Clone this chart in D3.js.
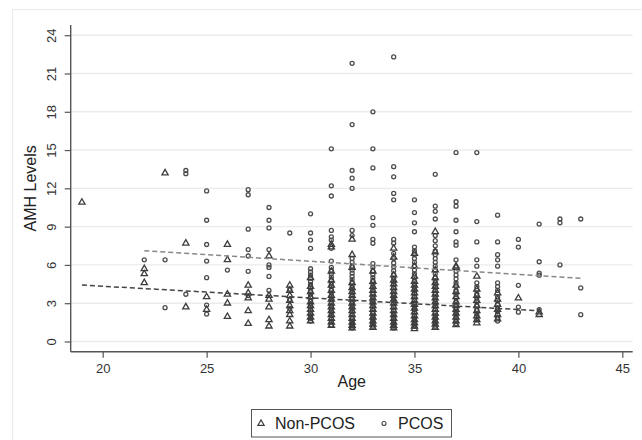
<!DOCTYPE html>
<html>
<head>
<meta charset="utf-8">
<script src="https://cdn.jsdelivr.net/npm/d3@7/dist/d3.min.js"></script>
<style>
  html, body { margin: 0; padding: 0; background: #fff; }
  svg { display: block; font-family: "Liberation Sans", Arial, sans-serif; }
</style>
</head>
<body>
<svg id="chart" width="642" height="440"></svg>
<script>
// ---- Data ----
const xTicks = [20, 25, 30, 35, 40, 45];
const yTicks = [0, 3, 6, 9, 12, 15, 18, 21, 24];
const legendLabels = ["Non-PCOS", "PCOS"];

// [age, [AMH values]]
const nonPcosByAge = [
  [19, [10.9]],
  [22, [5.7, 5.3, 4.6]],
  [23, [13.2]],
  [24, [7.7, 2.7]],
  [25, [3.5, 2.5]],
  [26, [7.6, 6.4, 3.7, 3.0, 1.95]],
  [27, [4.4, 3.8, 3.4, 2.4, 1.4]],
  [28, [6.7, 3.6, 3.3, 2.7, 1.7, 1.2]],
  [29, [4.4, 4.0, 3.6, 3.2, 2.8, 2.4, 2.1, 1.6, 1.2]],
  [30, [5.0, 4.3, 3.9, 3.5, 3.1, 2.8, 2.5, 2.2, 1.9, 1.6]],
  [31, [7.6, 7.4, 5.5, 4.8, 4.4, 4.0, 3.6, 3.3, 3.0, 2.7, 2.4, 2.1, 1.8, 1.5, 1.25]],
  [32, [8.0, 6.8, 5.8, 4.6, 4.2, 3.9, 3.6, 3.3, 3.0, 2.7, 2.4, 2.1, 1.8, 1.5, 1.25, 1.05]],
  [33, [5.5, 4.7, 4.3, 4.0, 3.7, 3.4, 3.1, 2.8, 2.5, 2.2, 1.9, 1.6, 1.35, 1.1]],
  [34, [7.3, 6.6, 5.2, 4.8, 4.5, 4.2, 3.9, 3.6, 3.3, 3.0, 2.7, 2.4, 2.1, 1.8, 1.5, 1.25, 1.05]],
  [35, [6.9, 5.9, 5.1, 4.7, 4.4, 4.1, 3.8, 3.5, 3.2, 2.9, 2.6, 2.3, 2.0, 1.7, 1.45, 1.2, 1.0]],
  [36, [8.6, 7.0, 5.6, 5.0, 4.6, 4.3, 4.0, 3.7, 3.4, 3.1, 2.8, 2.5, 2.2, 1.9, 1.6, 1.35, 1.1]],
  [37, [5.9, 5.8, 4.4, 3.9, 3.5, 3.1, 2.8, 2.5, 2.2, 1.9, 1.6, 1.3]],
  [38, [5.1, 4.1, 3.6, 3.2, 2.8, 2.4, 2.0, 1.7, 1.45]],
  [39, [3.8, 3.3, 2.9, 2.5, 2.1, 1.75]],
  [40, [3.4]],
  [41, [2.3, 2.1]]
];

const pcosByAge = [
  [22, [6.4]],
  [23, [6.4, 2.65]],
  [24, [13.4, 13.15, 3.7]],
  [25, [11.8, 9.5, 7.6, 6.3, 5.0, 2.85, 2.15]],
  [26, [5.6]],
  [27, [11.9, 11.5, 8.8, 7.2, 6.7, 5.5, 3.6]],
  [28, [10.5, 9.5, 8.9, 7.2, 6.0, 5.8, 5.1, 4.0]],
  [29, [8.5, 4.1, 3.3, 2.6]],
  [30, [10.0, 8.5, 7.95, 7.3, 5.7, 5.45, 5.2, 4.95, 4.7, 4.45, 4.2, 3.95, 3.7, 3.45, 3.2, 2.95, 2.7, 2.45, 2.2, 2.0, 1.8, 1.6]],
  [31, [15.1, 12.2, 11.4, 8.7, 8.2, 7.95, 7.3, 6.3, 5.8, 5.55, 5.3, 5.05, 4.8, 4.55, 4.3, 4.05, 3.8, 3.55, 3.3, 3.05, 2.8, 2.55, 2.3, 2.05, 1.8, 1.55, 1.3]],
  [32, [21.8, 17.0, 13.4, 12.8, 12.0, 8.7, 8.3, 6.5, 6.2, 5.9, 5.6, 5.35, 5.1, 4.85, 4.6, 4.35, 4.1, 3.85, 3.6, 3.35, 3.1, 2.85, 2.6, 2.35, 2.1, 1.85, 1.6, 1.4, 1.2, 1.05]],
  [33, [18.0, 15.1, 13.6, 9.7, 9.1, 8.0, 7.7, 6.1, 5.8, 5.5, 5.25, 5.0, 4.75, 4.5, 4.25, 4.0, 3.75, 3.5, 3.25, 3.0, 2.75, 2.5, 2.25, 2.0, 1.8, 1.6, 1.4, 1.2]],
  [34, [22.3, 13.7, 12.9, 11.6, 11.1, 8.0, 7.7, 6.9, 6.5, 6.15, 5.85, 5.55, 5.25, 4.95, 4.7, 4.45, 4.2, 3.95, 3.7, 3.45, 3.2, 2.95, 2.7, 2.45, 2.2, 2.0, 1.8, 1.6, 1.4, 1.2, 1.05]],
  [35, [11.1, 10.1, 9.3, 8.6, 7.4, 7.1, 6.8, 6.5, 6.2, 5.9, 5.6, 5.3, 5.0, 4.75, 4.5, 4.25, 4.0, 3.75, 3.5, 3.25, 3.0, 2.75, 2.5, 2.25, 2.0, 1.8, 1.6, 1.4, 1.2]],
  [36, [13.1, 10.6, 10.2, 9.6, 8.3, 7.9, 7.5, 7.1, 6.8, 6.5, 6.2, 5.9, 5.6, 5.3, 5.0, 4.75, 4.5, 4.25, 4.0, 3.75, 3.5, 3.25, 3.0, 2.75, 2.5, 2.25, 2.0, 1.8, 1.6, 1.4, 1.2]],
  [37, [14.8, 10.95, 10.6, 9.5, 8.6, 7.8, 7.55, 6.4, 5.5, 5.2, 4.9, 4.6, 4.3, 4.0, 3.7, 3.4, 3.1, 2.85, 2.6, 2.35, 2.1, 1.85, 1.6, 1.4]],
  [38, [14.8, 9.4, 7.8, 6.4, 5.9, 4.6, 4.3, 4.0, 3.7, 3.4, 3.1, 2.8, 2.5, 2.2, 1.95, 1.7]],
  [39, [9.9, 7.8, 6.8, 6.4, 5.9, 4.6, 4.3, 4.0, 3.5, 3.2, 2.9, 2.6, 2.35, 2.1, 1.85, 1.6]],
  [40, [8.0, 7.4, 4.4, 2.7, 2.3]],
  [41, [9.2, 6.25, 5.35, 5.2, 2.5]],
  [42, [9.6, 9.3, 6.0]],
  [43, [9.6, 4.2, 2.1]]
];

// linear fit lines (endpoints)
const fitNonPcos = [[19, 4.42], [41, 2.41]];
const fitPcos = [[22, 7.11], [43, 4.95]];

// ---- Layout ----
const svg = d3.select("#chart");
const plot = { left: 70.7, right: 632.7, top: 25, bottom: 351.7 };

const x = d3.scaleLinear().domain([18.46, 45.5]).range([plot.left, plot.right]);
const y = d3.scaleLinear().domain([-0.8, 24.8]).range([plot.bottom, plot.top]);

// outer frame
svg.append("rect")
  .attr("x", 12.5).attr("y", 9.5).attr("width", 640).attr("height", 440)
  .attr("fill", "none").attr("stroke", "#ececec").attr("stroke-width", 1.2);

// gridlines
svg.append("g").selectAll("line").data(yTicks).join("line")
  .attr("x1", plot.left).attr("x2", plot.right)
  .attr("y1", d => y(d)).attr("y2", d => y(d))
  .attr("stroke", "#ebebeb").attr("stroke-width", 1.4);

// Y axis
const yAxis = svg.append("g")
  .attr("transform", `translate(${plot.left},0)`)
  .call(d3.axisLeft(y).tickValues(yTicks).tickSize(6).tickPadding(0).tickFormat(d3.format("d")));
yAxis.select(".domain").attr("stroke", "#555").attr("stroke-width", 1.4)
  .attr("d", `M0,${plot.top}V${plot.bottom}`);
yAxis.selectAll(".tick line").attr("stroke", "#555").attr("stroke-width", 1.2);
yAxis.selectAll(".tick text")
  .attr("x", 0).attr("y", 0).attr("dy", null)
  .attr("transform", "translate(-19,0) rotate(-90)")
  .attr("text-anchor", "middle")
  .attr("dominant-baseline", "central")
  .attr("font-size", 13).attr("fill", "#333")
  .attr("font-family", "'Liberation Sans', Arial, sans-serif");

// X axis
const xAxis = svg.append("g")
  .attr("transform", `translate(0,${plot.bottom})`)
  .call(d3.axisBottom(x).tickValues(xTicks).tickSize(6).tickPadding(6).tickFormat(d3.format("d")));
xAxis.select(".domain").attr("stroke", "#555").attr("stroke-width", 1.4)
  .attr("d", `M${plot.left},0H${plot.right}`);
xAxis.selectAll(".tick line").attr("stroke", "#555").attr("stroke-width", 1.2);
xAxis.selectAll(".tick text")
  .attr("font-size", 13).attr("fill", "#333")
  .attr("font-family", "'Liberation Sans', Arial, sans-serif");

// axis titles
svg.append("text")
  .attr("x", (plot.left + plot.right) / 2).attr("y", 381)
  .attr("text-anchor", "middle").attr("dominant-baseline", "central")
  .attr("font-size", 16).attr("fill", "#222").text("Age");
svg.append("text")
  .attr("transform", `translate(30,${(plot.top + plot.bottom) / 2}) rotate(-90)`)
  .attr("text-anchor", "middle").attr("dominant-baseline", "central")
  .attr("font-size", 16).attr("fill", "#222").text("AMH Levels");

// flatten points
const flat = arr => arr.flatMap(([age, vals]) => vals.map(v => ({ age, v })));
const nonPts = flat(nonPcosByAge);
const pcosPts = flat(pcosByAge);

const triPath = d3.symbol().type(d3.symbolTriangle).size(17)();

// PCOS circles
svg.append("g").selectAll("circle").data(pcosPts).join("circle")
  .attr("cx", d => x(d.age)).attr("cy", d => y(d.v)).attr("r", 2)
  .attr("fill", "none").attr("stroke", "#4d4d4d").attr("stroke-width", 1.3);

// Non-PCOS triangles
svg.append("g").selectAll("path").data(nonPts).join("path")
  .attr("d", triPath)
  .attr("transform", d => `translate(${x(d.age)},${y(d.v)})`)
  .attr("fill", "none").attr("stroke", "#3d3d3d").attr("stroke-width", 1.3);

// fit lines
const line = d3.line().x(d => x(d[0])).y(d => y(d[1]));
svg.append("path").datum(fitPcos).attr("d", line)
  .attr("fill", "none").attr("stroke", "#888").attr("stroke-width", 1.5)
  .attr("stroke-dasharray", "5,3");
svg.append("path").datum(fitNonPcos).attr("d", line)
  .attr("fill", "none").attr("stroke", "#444").attr("stroke-width", 1.5)
  .attr("stroke-dasharray", "5,3");

// legend
const lg = svg.append("g");
lg.append("rect").attr("x", 251.5).attr("y", 409.5).attr("width", 200).attr("height", 27.5)
  .attr("fill", "#fff").attr("stroke", "#555").attr("stroke-width", 1);
lg.append("path").attr("d", triPath).attr("transform", "translate(261,423.5)")
  .attr("fill", "none").attr("stroke", "#3d3d3d").attr("stroke-width", 1.2);
lg.append("text").attr("x", 275).attr("y", 423.5).attr("dominant-baseline", "central")
  .attr("font-size", 16).attr("fill", "#222").text(legendLabels[0]);
lg.append("circle").attr("cx", 384).attr("cy", 423.5).attr("r", 2)
  .attr("fill", "none").attr("stroke", "#4d4d4d").attr("stroke-width", 1.2);
lg.append("text").attr("x", 398).attr("y", 423.5).attr("dominant-baseline", "central")
  .attr("font-size", 16).attr("fill", "#222").text(legendLabels[1]);
</script>
</body>
</html>
